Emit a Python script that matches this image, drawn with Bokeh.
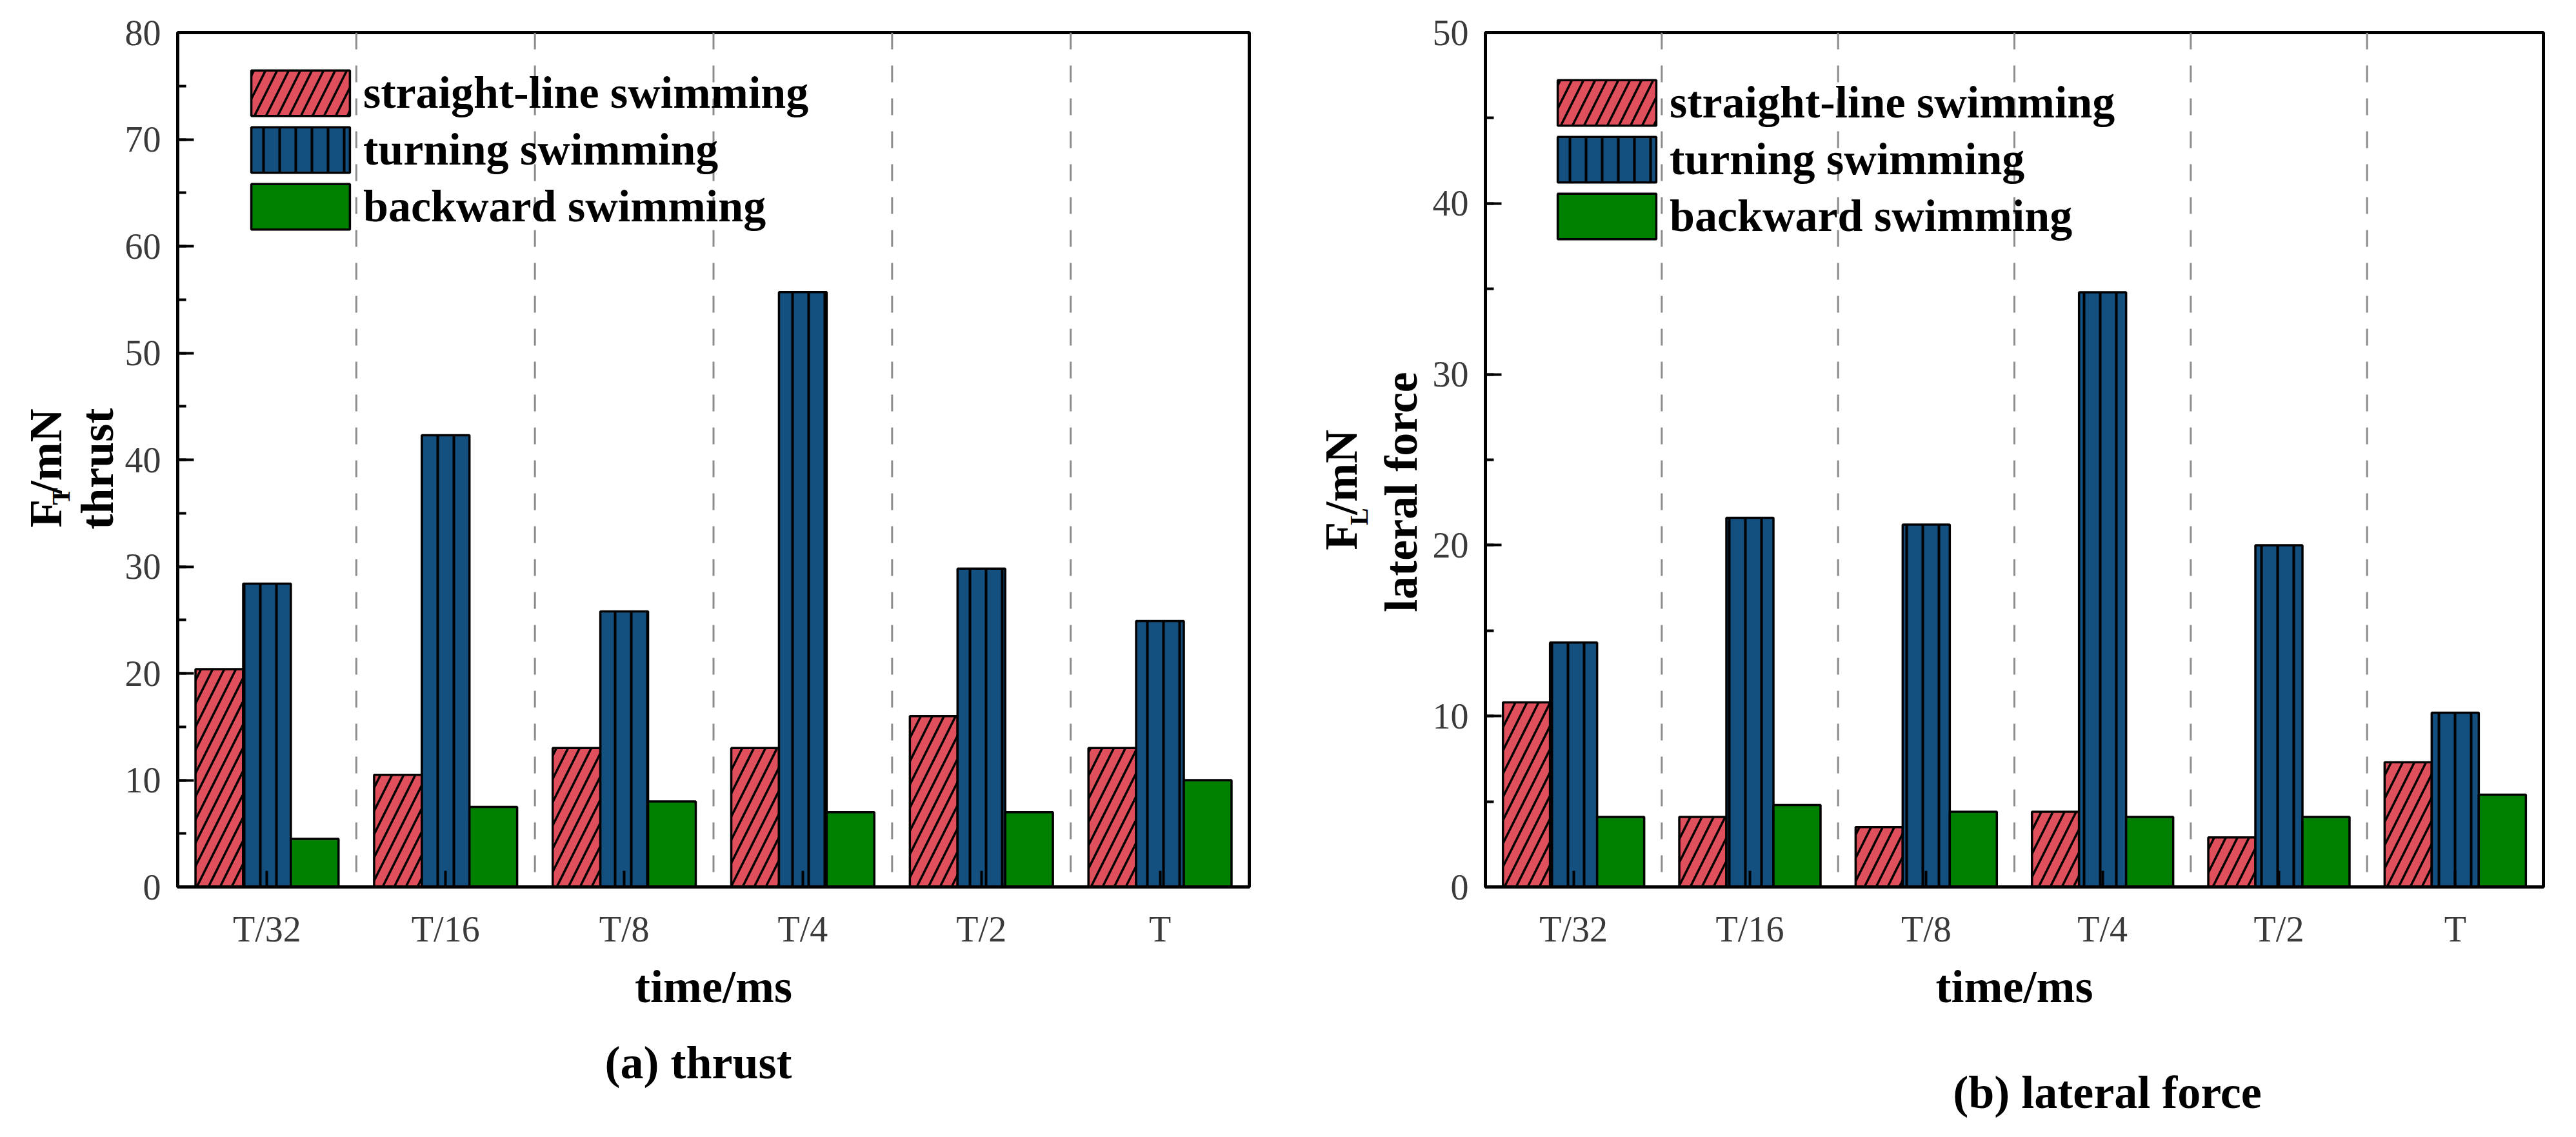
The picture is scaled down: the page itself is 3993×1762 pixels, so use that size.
from math import pi

from bokeh.plotting import figure
from bokeh.layouts import row, column
from bokeh.models import ColumnDataSource, Span, SingleIntervalTicker
from bokeh.core.properties import value
from bokeh.transform import dodge
from bokeh.embed import file_html
from bokeh.resources import INLINE

times = ["T/32", "T/16", "T/8", "T/4", "T/2", "T"]
modes = ["straight-line swimming", "turning swimming", "backward swimming"]

thrust_straight = [20.4, 10.5, 13.0, 13.0, 16.0, 13.0]
thrust_turning = [28.4, 42.3, 25.8, 55.7, 29.8, 24.9]
thrust_backward = [4.5, 7.5, 8.0, 7.0, 7.0, 10.0]

lateral_straight = [10.8, 4.1, 3.5, 4.4, 2.9, 7.3]
lateral_turning = [14.3, 21.6, 21.2, 34.8, 20.0, 10.2]
lateral_backward = [4.1, 4.8, 4.4, 4.1, 4.1, 5.4]

SERIF = "Liberation Serif"
BAR_W = 0.267
ROW_H = 1590

bar_styles = [
    dict(fill_color="#E0505C", hatch_pattern="/", hatch_color="black",
         hatch_scale=36, hatch_weight=3.5),
    dict(fill_color="#14507F", hatch_pattern="|", hatch_color="black",
         hatch_scale=25, hatch_weight=4),
    dict(fill_color="#008000"),
]


def text_fig(width, height):
    # blank figure whose data units are pixels, used for free-standing titles
    f = figure(width=width, height=height, x_range=(0, width), y_range=(0, height),
               min_border=0, x_axis_location=None, y_axis_location=None,
               toolbar_location=None, tools="", output_backend="svg")
    f.grid.visible = False
    f.outline_line_color = None
    return f


def put(f, text, x, y, size=72, angle=0):
    if angle:
        # rotated text lands higher than its anchor; push it back down
        y -= 95
    f.text(x=[x], y=[y], text=[text], angle=angle, text_font=value(SERIF),
           text_font_style="bold", text_font_size="%dpx" % size, text_align="center",
           text_baseline="middle", text_color="black")


def bar_panel(series, ymax, width, borders, legend_pos):
    left, right, top, bottom = borders
    p = figure(x_range=times, y_range=(0, ymax), width=width, height=ROW_H,
               min_border_left=left, min_border_right=right,
               min_border_top=top, min_border_bottom=bottom,
               toolbar_location=None, tools="", output_backend="svg")

    src = ColumnDataSource(dict(time=times, s0=series[0], s1=series[1], s2=series[2]))
    for i, (mode, st) in enumerate(zip(modes, bar_styles)):
        p.vbar(x=dodge("time", (i - 1) * BAR_W, range=p.x_range), top="s%d" % i,
               width=BAR_W, source=src, line_color="black", line_width=3.5,
               legend_label=mode, **st)

    # dashed separators between time groups
    for k in range(1, len(times)):
        p.add_layout(Span(location=k, dimension="height", line_color="#8c8c8c",
                          line_dash="26 25", line_width=3, level="underlay"))

    p.xgrid.grid_line_color = None
    p.ygrid.grid_line_color = None
    p.outline_line_color = "black"
    p.outline_line_width = 5

    p.yaxis.ticker = SingleIntervalTicker(interval=10, num_minor_ticks=2)
    for ax in (p.xaxis, p.yaxis):
        ax.axis_line_width = 5
        ax.major_tick_in = 25
        ax.major_tick_out = 0
        ax.minor_tick_in = 13
        ax.minor_tick_out = 0
        ax.major_tick_line_width = 4
        ax.minor_tick_line_width = 4
        ax.major_label_text_font = SERIF
        ax.major_label_text_font_size = "56px"
        ax.major_label_text_color = "#3a3a3a"
    p.yaxis.major_label_standoff = 26
    p.xaxis.major_label_standoff = 34
    p.xaxis.axis_label = "time/ms"
    p.xaxis.axis_label_text_font = SERIF
    p.xaxis.axis_label_text_font_style = "bold"
    p.xaxis.axis_label_text_font_size = "72px"
    p.xaxis.axis_label_text_color = "black"
    p.xaxis.axis_label_standoff = 15

    lg = p.legend[0]
    lg.location = legend_pos
    lg.glyph_width = 191
    lg.glyph_height = 88
    lg.label_height = 88
    lg.spacing = 0
    lg.padding = 0
    lg.margin = 0
    lg.label_standoff = 2
    lg.border_line_color = None
    lg.background_fill_alpha = 0
    lg.label_text_font = SERIF
    lg.label_text_font_style = "bold"
    lg.label_text_font_size = "70px"
    lg.label_text_color = "black"
    return p


# (a) thrust
ylab1 = text_fig(190, ROW_H)
put(ylab1, "F", 70, 790, angle=pi / 2)
put(ylab1, "T", 93.5, 822, size=40, angle=pi / 2)
put(ylab1, "/mN", 70, 906, angle=pi / 2)
put(ylab1, "thrust", 150, 873, angle=pi / 2)
p1 = bar_panel([thrust_straight, thrust_turning, thrust_backward], 80,
               1826, (82, 80, 41, 207), (95, 1010))

# (b) lateral force
ylab2 = text_fig(201, ROW_H)
put(ylab2, "F", 62, 748, angle=pi / 2)
put(ylab2, "L", 89.5, 784, size=40, angle=pi / 2)
put(ylab2, "/mN", 62, 867, angle=pi / 2)
put(ylab2, "lateral force", 155, 830, angle=pi / 2)
p2 = bar_panel([lateral_straight, lateral_turning, lateral_backward], 50,
               1760, (82, 35, 50, 216), (93, 995))

captions = text_fig(3977, 156)
put(captions, "(a) thrust", 1082, 100)
put(captions, "(b) lateral force", 3266, 54)

page = column(row(ylab1, p1, ylab2, p2), captions)
open("out.html", "w").write(file_html(page, INLINE))
